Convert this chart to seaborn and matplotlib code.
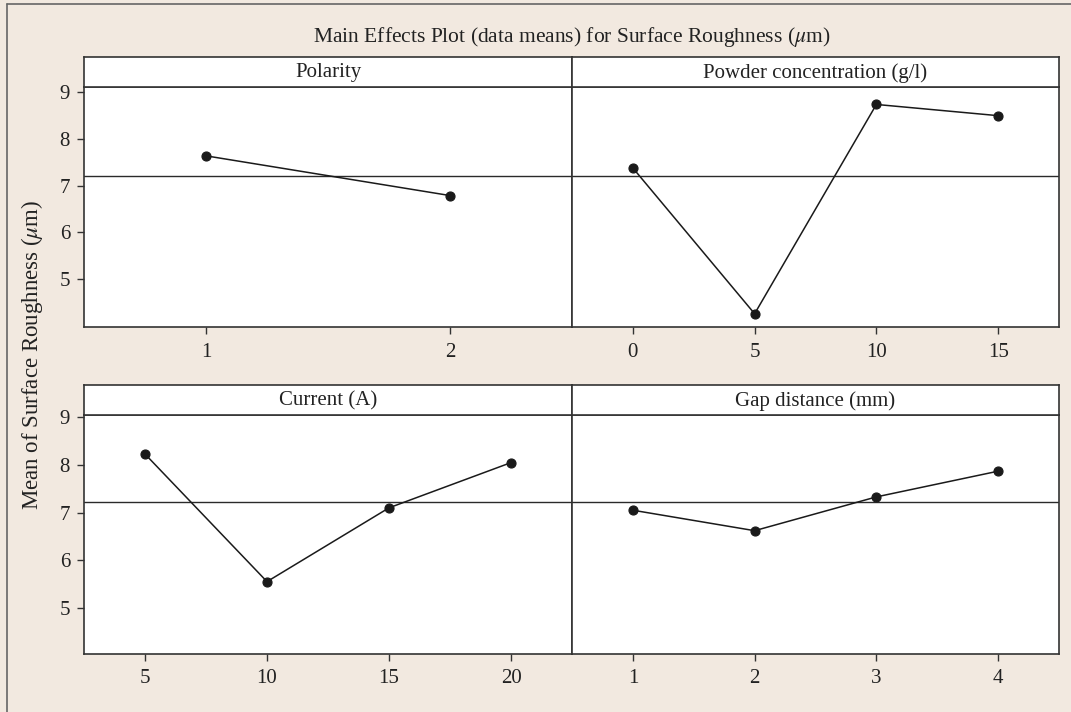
import pandas as pd
import matplotlib.pyplot as plt
import seaborn as sns

# === Data ===
polarity_levels = ["1", "2"]
polarity_means = [7.64, 6.79]

powder_levels = ["0", "5", "10", "15"]
powder_means = [7.38, 4.26, 8.74, 8.50]

current_levels = ["5", "10", "15", "20"]
current_means = [8.23, 5.55, 7.10, 8.05]

gap_levels = ["1", "2", "3", "4"]
gap_means = [7.05, 6.62, 7.33, 7.87]

panel_titles = ["Polarity", "Powder concentration (g/l)", "Current (A)", "Gap distance (mm)"]
title = "Main Effects Plot (data means) for Surface Roughness ($\\mu$m)"
ylabel = "Mean of Surface Roughness ($\\mu$m)"
yticks = [5, 6, 7, 8, 9]

grand_mean = sum(polarity_means) / len(polarity_means)

sns.set_theme(style="white")
plt.rcParams["font.family"] = ["Liberation Serif", "DejaVu Serif"]
plt.rcParams["mathtext.fontset"] = "stix"

BG = "#f2e9e0"
EDGE = "#333333"
TXT = "#222222"
W, H = 1071, 712

fig = plt.figure(figsize=(10.71, 7.12), dpi=100)
fig.patch.set_facecolor(BG)

# outer frame (left + top visible)
fig.add_artist(plt.Line2D([6.5 / W, 6.5 / W], [0, 1 - 4 / H], transform=fig.transFigure, color="#666666", lw=1.2))
fig.add_artist(plt.Line2D([6.5 / W, 1], [1 - 4 / H, 1 - 4 / H], transform=fig.transFigure, color="#666666", lw=1.2))


def box(x0, x1, y_top, y_bot):
    return [x0 / W, 1 - y_bot / H, (x1 - x0) / W, (y_bot - y_top) / H]


panels = [
    (polarity_levels, polarity_means, (84, 572), (57, 86.7, 327.3), (3.97, 9.12), True),
    (powder_levels, powder_means, (572, 1059), (57, 86.7, 327.3), (3.97, 9.12), False),
    (current_levels, current_means, (84, 572), (385, 415, 654), (4.03, 9.05), True),
    (gap_levels, gap_means, (572, 1059), (385, 415, 654), (4.03, 9.05), False),
]

for (levels, means, (x0, x1), (yh, yd, yb), ylim, left), name in zip(panels, panel_titles):
    df = pd.DataFrame({"level": levels, "mean": means})

    ax = fig.add_axes(box(x0, x1, yd, yb))
    ax.set_facecolor("white")
    ax.axhline(grand_mean, color="#2a2a2a", lw=1.0, zorder=1)
    sns.pointplot(data=df, x="level", y="mean", order=levels, color="#1a1a1a",
                  markers="o", markersize=6.5, linewidth=1.1, ax=ax)
    ax.set_xlim(-0.5, len(levels) - 0.5)
    ax.set_ylim(*ylim)
    ax.set_xlabel("")
    ax.set_ylabel("")
    ax.tick_params(axis="x", bottom=True, length=5, width=1, color=EDGE, labelsize=15,
                   labelcolor=TXT, pad=6)
    if left:
        ax.set_yticks(yticks)
        ax.tick_params(axis="y", left=True, length=5, width=1, color=EDGE, labelsize=15,
                       labelcolor=TXT, pad=5)
    else:
        ax.set_yticks([])
    for s in ax.spines.values():
        s.set_color(EDGE)
        s.set_linewidth(1.2)

    hx = fig.add_axes(box(x0, x1, yh, yd))
    hx.set_facecolor("white")
    hx.set_xticks([])
    hx.set_yticks([])
    for s in hx.spines.values():
        s.set_color(EDGE)
        s.set_linewidth(1.2)
    hx.text(0.5, 0.47, name, ha="center", va="center", fontsize=15, color=TXT,
            transform=hx.transAxes)

fig.text((84 + 1059) / 2 / W, 1 - 37 / H, title, ha="center", va="center", fontsize=15.5, color=TXT)
fig.text(32 / W, 1 - 355 / H, ylabel, ha="center", va="center", rotation=90, fontsize=16.5, color=TXT)

fig.savefig("out.png", dpi=100, facecolor=BG)
